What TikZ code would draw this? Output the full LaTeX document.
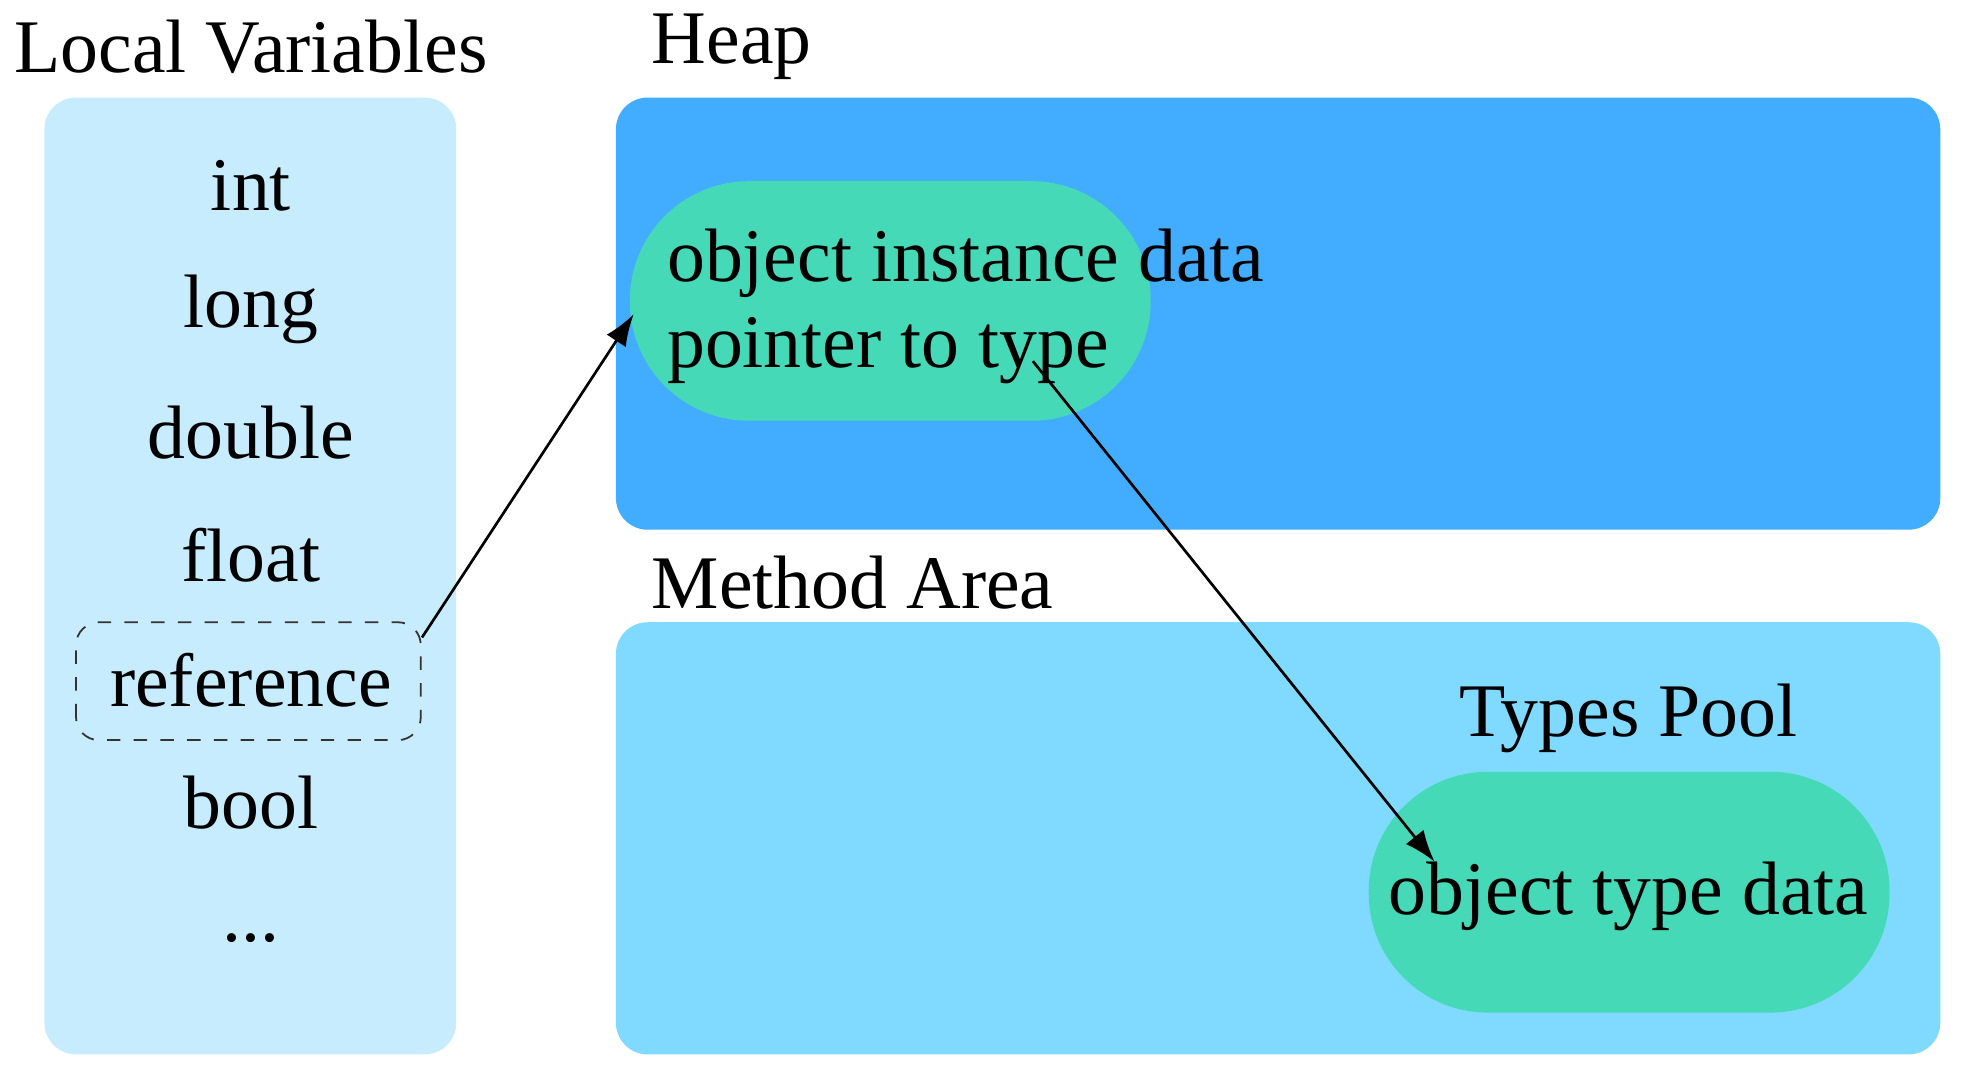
\documentclass[tikz,border=0pt]{standalone}
\usepackage{fontspec}
\setmainfont{Liberation Serif}
\usetikzlibrary{arrows.meta}
\definecolor{localbg}{HTML}{C6ECFD}
\definecolor{heapbg}{HTML}{42ADFF}
\definecolor{methodbg}{HTML}{80D9FF}
\definecolor{pillbg}{HTML}{45D9B7}
\begin{document}
\begin{tikzpicture}[font=\fontsize{17}{20}\selectfont,
    area/.style={rounded corners=.25cm},
    pill/.style={fill=pillbg, rounded corners=.94cm},
    item/.style={anchor=center},
    link/.style={-{Latex[length=.25cm,width=.18cm]}, line width=.6pt}]
    \useasboundingbox (0,0) rectangle (15.6,8.55);
    \fill[localbg, area] (.35,.23) rectangle (3.6,7.78);
    \fill[heapbg, area] (4.86,4.37) rectangle (15.31,7.78);
    \fill[methodbg, area] (4.86,.23) rectangle (15.31,3.64);
    \node at (1.98,8.18) {Local Variables};
    \node[anchor=west] at (5.02,8.18) {Heap};
    \node[anchor=west] at (5.02,3.95) {Method Area};
    \node[item] (int) at (1.98,7.08) {int};
    \node[item] (long) at (1.98,6.11) {long};
    \node[item] (double) at (1.98,5.14) {double};
    \node[item] (float) at (1.98,4.17) {float};
    \node[item] (ref) at (1.98,3.18) {reference};
    \node[item] (bool) at (1.98,2.22) {bool};
    \node[item] (more) at (1.98,1.15) {...};
    \draw[dashed, rounded corners=.18cm, black!80] (.6,2.71) rectangle (3.32,3.64);
    \fill[pill] (4.97,5.23) rectangle (9.08,7.12);
    \node[anchor=west] (inst) at (5.14,6.47) {object instance data};
    \node[anchor=west] (ptr) at (5.14,5.78) {pointer to type};
    \node (pool) at (12.85,2.88) {Types Pool};
    \fill[pill] (10.8,.56) rectangle (14.91,2.46);
    \node (tdata) at (12.85,1.48) {object type data};
    \coordinate (refout) at (3.33,3.52);
    \coordinate (heapin) at (5.0,6.07);
    \coordinate (ptrout) at (8.15,5.7);
    \coordinate (typein) at (11.32,1.75);
    \draw[link] (refout) -- (heapin);
    \draw[link] (ptrout) -- (typein);
\end{tikzpicture}
\end{document}
